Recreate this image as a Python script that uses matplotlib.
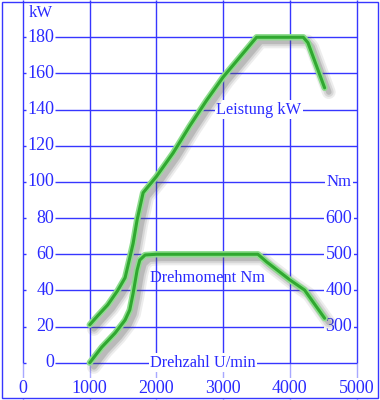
import matplotlib
matplotlib.use('Agg')
import matplotlib.pyplot as plt
import matplotlib.patheffects as pe
from matplotlib.patches import Rectangle

plt.rcParams['font.family'] = ['Liberation Serif', 'DejaVu Serif']

# Drehzahl (U/min) und Leistung (kW)
rpm_power = [1000, 1120, 1270, 1420, 1530, 1600, 1650, 1710, 1800, 2000, 2250,
             2500, 2750, 3000, 3250, 3500, 4200, 4270, 4520]
power_kw = [21, 26, 32, 40, 47, 58, 66, 79, 94, 103, 116,
            131, 145, 158, 169, 180, 180, 177, 152]

# Drehzahl (U/min) und Drehmoment (Nm)
rpm_torque = [1000, 1180, 1380, 1530, 1600, 1650, 1710, 1750, 1830, 2000,
              3520, 3650, 4000, 4220, 4520]
torque_nm = [200, 243, 282, 318, 346, 392, 456, 484, 498, 500,
             500, 479, 429, 401, 323]

x_ticks = [0, 1000, 2000, 3000, 4000, 5000]
kw_ticks = [0, 20, 40, 60, 80, 100, 120, 140, 160, 180]
nm_ticks = [300, 400, 500, 600]

BLUE = '#3636ff'
LIGHT_BLUE = '#a8a8ff'
TXT = '#2a2aff'


def curve_effects():
    # weicher grauer Schatten + heller Rand
    fx = []
    for w, a in [(10, 0.10), (7, 0.14), (4, 0.22)]:
        fx.append(pe.SimpleLineShadow(offset=(3, -3), shadow_color='#555555',
                                      alpha=a, linewidth=w))
    fx.append(pe.Stroke(linewidth=4.6, foreground='#8edc8e',
                        joinstyle='round', capstyle='round'))
    fx.append(pe.Normal())
    return fx


fig = plt.figure(figsize=(3.8, 4.0), dpi=100)
ax = fig.add_axes([0, 0, 1, 1])
ax.set_xlim(-345, 5350)
ax.set_ylim(-20.6, 200.6)
ax.axis('off')

# Gitter
ax.vlines(x_ticks, 0, 200.6, color=BLUE, lw=1.0, zorder=1)
ax.vlines(x_ticks, -20.6, 0, color=LIGHT_BLUE, lw=1.0, zorder=1)
ax.hlines(kw_ticks, 0, 45, color=BLUE, lw=1.0, zorder=1)
ax.hlines(kw_ticks, 480, 5000, color=BLUE, lw=1.0, zorder=1)

box = dict(boxstyle='square,pad=0.08', fc='white', ec='none')

for v in kw_ticks:
    ax.text(470, v, str(v), ha='right', va='center', fontsize=13, color=TXT, zorder=3)

for v in x_ticks:
    ax.text(v, -14, str(v), ha='center', va='center', fontsize=13, color=TXT,
            bbox=box, zorder=3)

for v in nm_ticks:
    ax.text(4735, (v - 200) / 5, str(v), ha='center', va='center', fontsize=13,
            color=TXT, bbox=box, zorder=3)

ax.text(4735, 100, 'Nm', ha='center', va='center', fontsize=12, color=TXT,
        bbox=box, zorder=3)
ax.text(270, 193.5, 'kW', ha='center', va='center', fontsize=12, color=TXT, zorder=3)
ax.text(3537, 140, 'Leistung kW', ha='center', va='center', fontsize=11.8,
        color=TXT, bbox=box, zorder=3)
ax.text(2770, 47, 'Drehmoment Nm', ha='center', va='center', fontsize=11.8,
        color=TXT, zorder=3)
ax.text(2700, 0, 'Drehzahl U/min', ha='center', va='center', fontsize=11.8,
        color=TXT, bbox=box, zorder=3)

ax.plot(rpm_power, power_kw, color='#30a830', lw=2.2, solid_joinstyle='round',
        solid_capstyle='round', path_effects=curve_effects(), zorder=4)

# Drehmoment auf zweiter Skala (Nm = 200 + 5 * kW-Raster)
ax2 = ax.twinx()
ax2.set_ylim(200 + 5 * -20.6, 200 + 5 * 200.6)
ax2.axis('off')
ax2.plot(rpm_torque, torque_nm, color='#30a830', lw=2.2, solid_joinstyle='round',
         solid_capstyle='round', path_effects=curve_effects(), zorder=4)

fig.add_artist(Rectangle((0.005, 0.006), 0.99, 0.99, transform=fig.transFigure,
                         fill=False, ec=BLUE, lw=1.0))

fig.savefig('out.png', dpi=100)
